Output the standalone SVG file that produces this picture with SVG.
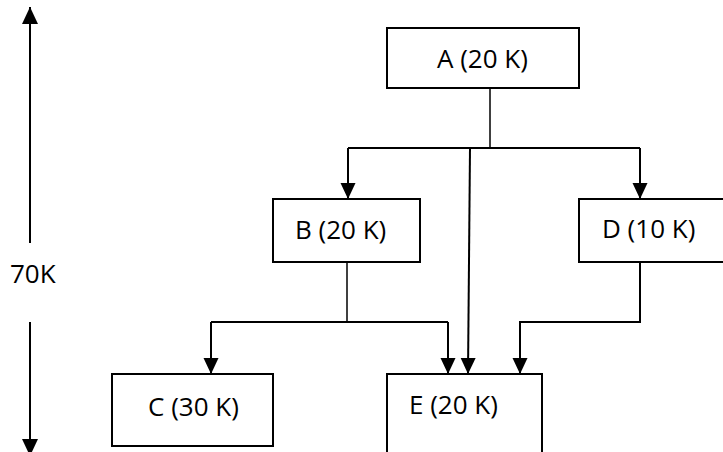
<svg xmlns="http://www.w3.org/2000/svg" width="723" height="452" viewBox="0 0 723 452">
  <style>
    .box { fill: #ffffff; stroke: #000000; stroke-width: 2; }
    .lbl { font-family: "Open Sans", "Liberation Sans", sans-serif; font-size: 26px; fill: #000000; }
    .con { fill: none; stroke: #000000; stroke-width: 2; }
    .thin { fill: none; stroke: #000000; stroke-width: 1.5; }
  </style>
  <defs>
    <marker id="ah" markerUnits="userSpaceOnUse" markerWidth="16" markerHeight="16" viewBox="0 0 16 16" refX="16" refY="7.5" orient="auto">
      <path d="M0,0 L16,7.5 L0,15 z" fill="#000000"/>
    </marker>
    <marker id="ahBig" markerUnits="userSpaceOnUse" markerWidth="17" markerHeight="17" viewBox="0 0 17 17" refX="17" refY="8" orient="auto">
      <path d="M0,0 L17,8 L0,16 z" fill="#000000"/>
    </marker>
  </defs>

  <g id="scale">
    <line class="con" x1="30" y1="243" x2="30" y2="7" marker-end="url(#ahBig)"/>
    <line class="con" x1="30" y1="322" x2="30" y2="456" marker-end="url(#ahBig)"/>
    <text class="lbl" x="10" y="283">70K</text>
  </g>

  <g id="connectors">
    <polyline class="thin" points="490,88 490,148"/>
    <polyline class="con" points="348,148 640,148"/>
    <polyline class="con" points="348,148 348,199" marker-end="url(#ah)"/>
    <polyline class="con" points="640,148 640,199" marker-end="url(#ah)"/>
    <line class="con" x1="470" y1="148" x2="468" y2="374" marker-end="url(#ah)"/>
    <polyline class="thin" points="347,262 347,322"/>
    <polyline class="con" points="211,322 448,322"/>
    <polyline class="con" points="211,322 211,374" marker-end="url(#ah)"/>
    <polyline class="con" points="448,322 448,374" marker-end="url(#ah)"/>
    <polyline class="con" points="640,262 640,322 520,322 520,374" marker-end="url(#ah)"/>
  </g>

  <g id="nodeA">
    <rect class="box" x="387" y="28" width="192" height="60"/>
    <text class="lbl" x="437" y="68">A (20 K)</text>
  </g>
  <g id="nodeB">
    <rect class="box" x="273" y="199" width="147" height="63"/>
    <text class="lbl" x="295" y="239">B (20 K)</text>
  </g>
  <g id="nodeD">
    <rect class="box" x="579" y="199" width="160" height="63"/>
    <text class="lbl" x="602" y="238">D (10 K)</text>
  </g>
  <g id="nodeC">
    <rect class="box" x="112" y="374" width="161" height="72"/>
    <text class="lbl" x="148" y="416">C (30 K)</text>
  </g>
  <g id="nodeE">
    <rect class="box" x="387" y="374" width="155" height="100"/>
    <text class="lbl" x="409" y="414">E (20 K)</text>
  </g>
</svg>
